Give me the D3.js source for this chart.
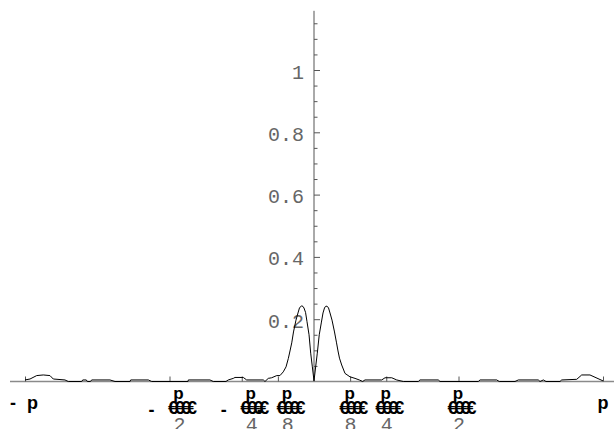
<!DOCTYPE html>
<html>
<head>
<meta charset="utf-8">
<script src="https://cdn.jsdelivr.net/npm/d3@7"></script>
<style>
  html, body { margin: 0; padding: 0; background: #fff; }
  svg { display: block; }
</style>
</head>
<body>
<script>
// Curve samples: angle (radians) and magnitude
const xs = [
  -3.1417, -3.087, -3.0145, -2.943, -2.870, -2.834, -2.707, -2.671, -2.525, -2.514,
  -2.475, -2.464, -2.430, -2.417, -2.218, -2.163, -2.000, -1.993, -1.801, -1.764,
  -1.370, -1.366, -1.131, -1.095, -0.957, -0.932, -0.877, -0.859, -0.769, -0.732,
  -0.551, -0.533, -0.497, -0.460, -0.405, -0.370, -0.334, -0.304, -0.279, -0.261,
  -0.242, -0.223, -0.196, -0.174, -0.158, -0.136, -0.120, -0.109, -0.092, -0.076,
  -0.054, -0.036, -0.018, 0.000,
  0.018, 0.036, 0.057, 0.079, 0.098, 0.114, 0.125, 0.141, 0.158, 0.174,
  0.196, 0.223, 0.245, 0.261, 0.277, 0.301, 0.337, 0.391, 0.446, 0.492,
  0.529, 0.554, 0.736, 0.772, 0.845, 0.899, 0.971, 1.134, 1.152, 1.351,
  1.370, 1.786, 1.805, 1.986, 2.014, 2.185, 2.221, 2.438, 2.457, 2.493,
  2.522, 2.674, 2.693, 2.856, 2.910, 3.000, 3.1417
];
const ys = [
  0.005, 0.008, 0.019, 0.021, 0.019, 0.008, 0.005, 0.000, 0.000, 0.005,
  0.005, 0.000, 0.000, 0.005, 0.005, 0.000, 0.000, 0.005, 0.005, 0.000,
  0.000, 0.005, 0.005, 0.000, 0.000, 0.005, 0.010, 0.013, 0.013, 0.005,
  0.005, 0.000, 0.010, 0.012, 0.019, 0.019, 0.031, 0.047, 0.074, 0.098,
  0.124, 0.159, 0.197, 0.220, 0.236, 0.243, 0.241, 0.236, 0.222, 0.192,
  0.150, 0.091, 0.047, 0.002,
  0.047, 0.091, 0.150, 0.188, 0.220, 0.236, 0.241, 0.242, 0.236, 0.220,
  0.197, 0.159, 0.124, 0.098, 0.075, 0.053, 0.026, 0.015, 0.010, 0.005,
  0.000, 0.005, 0.005, 0.012, 0.012, 0.005, 0.000, 0.000, 0.005, 0.005,
  0.000, 0.000, 0.005, 0.005, 0.000, 0.000, 0.005, 0.005, 0.000, 0.005,
  0.000, 0.000, 0.005, 0.007, 0.021, 0.021, 0.002
];

// Vertical axis ticks
const yMajor = [0.2, 0.4, 0.6, 0.8, 1];
const yMajorLabels = ["0.2", "0.4", "0.6", "0.8", "1"];
const yMinor = [0.05, 0.1, 0.15, 0.25, 0.3, 0.35, 0.45, 0.5, 0.55, 0.65, 0.7, 0.75,
                0.85, 0.9, 0.95, 1.05, 1.1, 1.15];

// Horizontal axis ticks: position, sign, denominator (empty = whole pi)
const xTicks = [-Math.PI, -Math.PI / 2, -Math.PI / 4, -Math.PI / 8,
                Math.PI / 8, Math.PI / 4, Math.PI / 2, Math.PI];
const xTickSigns = ["-", "-", "-", "-", "", "", "", ""];
const xTickDenoms = ["", "2", "4", "8", "8", "4", "2", ""];
const piGlyph = "p";
const barGlyphs = "€€€€";

const W = 614, H = 429;
const svg = d3.select("body").append("svg")
  .attr("width", W).attr("height", H)
  .style("background", "#fff");

const x = d3.scaleLinear().domain([-Math.PI, Math.PI]).range([25, 603]);
const y = d3.scaleLinear().domain([0, 1]).range([381.5, 70]);

const monoFont = "'Liberation Mono', 'Courier New', monospace";
const boldFont = "'Liberation Sans', Arial, sans-serif";

// Horizontal axis line
svg.append("line")
  .attr("x1", 10).attr("x2", W)
  .attr("y1", y(0)).attr("y2", y(0))
  .attr("stroke", "#8a8a8a").attr("stroke-width", 1.5);

// Vertical axis line
svg.append("line")
  .attr("x1", x(0)).attr("x2", x(0))
  .attr("y1", y(1.19)).attr("y2", y(0))
  .attr("stroke", "#555").attr("stroke-width", 1);

// Minor y ticks
const yMinorAxis = d3.axisRight(y).tickValues(yMinor).tickSize(3.5).tickFormat("");
const gMinor = svg.append("g").attr("transform", `translate(${x(0)},0)`).call(yMinorAxis);
gMinor.select(".domain").remove();
gMinor.selectAll("line").attr("stroke", "#555");

// Major y ticks with labels on the left
const yMajorAxis = d3.axisLeft(y).tickValues(yMajor).tickSize(-6).tickPadding(10)
  .tickFormat((d, i) => yMajorLabels[i]);
const gMajor = svg.append("g").attr("transform", `translate(${x(0)},0)`).call(yMajorAxis);
gMajor.select(".domain").remove();
gMajor.selectAll("line").attr("stroke", "#555");
gMajor.selectAll("text")
  .attr("font-family", monoFont).attr("font-size", 20)
  .attr("fill", "#666").attr("dy", "0.4em");

// x ticks pointing upward
const xAxis = d3.axisTop(x).tickValues(xTicks).tickSize(5).tickFormat("");
const gx = svg.append("g").attr("transform", `translate(0,${y(0)})`).call(xAxis);
gx.select(".domain").remove();
gx.selectAll("line").attr("stroke", "#555");

// x tick labels
const gl = svg.append("g");
xTicks.forEach((v, i) => {
  const cx = x(v);
  const neg = xTickSigns[i] === "-";
  const den = xTickDenoms[i];
  if (den === "") {
    // whole pi label
    if (neg) {
      gl.append("text").attr("x", cx - 15).attr("y", 409)
        .attr("font-family", boldFont).attr("font-weight", "bold").attr("font-size", 18)
        .text("-");
      gl.append("text").attr("x", cx + 2).attr("y", 409)
        .attr("font-family", boldFont).attr("font-weight", "bold").attr("font-size", 18)
        .text(piGlyph);
    } else {
      gl.append("text").attr("x", cx).attr("y", 409).attr("text-anchor", "middle")
        .attr("font-family", boldFont).attr("font-weight", "bold").attr("font-size", 18)
        .text(piGlyph);
    }
    return;
  }
  const s = neg ? 9.5 : 0;
  if (neg) {
    gl.append("text").attr("x", cx - 18).attr("y", 416).attr("text-anchor", "middle")
      .attr("font-family", boldFont).attr("font-weight", "bold").attr("font-size", 18)
      .text("-");
  }
  // denominator (drawn first, partly covered)
  gl.append("text").attr("x", cx + s + 0.5).attr("y", 431).attr("text-anchor", "middle")
    .attr("font-family", monoFont).attr("font-size", 20).attr("fill", "#666")
    .text(den);
  // numerator
  gl.append("text").attr("x", cx + s - 0.5).attr("y", 399).attr("text-anchor", "middle")
    .attr("font-family", boldFont).attr("font-weight", "bold").attr("font-size", 17)
    .text(piGlyph);
  // fraction bar glyphs
  gl.append("text").attr("x", cx + s - 11).attr("y", 413.5)
    .attr("font-family", boldFont).attr("font-weight", "bold").attr("font-size", 18.5)
    .attr("letter-spacing", "-4px")
    .text(barGlyphs);
});

// curve
const pts = xs.map((v, i) => [v, ys[i]]);
const line = d3.line().x(d => x(d[0])).y(d => y(d[1]));
svg.append("path")
  .datum(pts)
  .attr("d", line)
  .attr("fill", "none")
  .attr("stroke", "#000")
  .attr("stroke-width", 1)
  .attr("stroke-linejoin", "round");
</script>
</body>
</html>
